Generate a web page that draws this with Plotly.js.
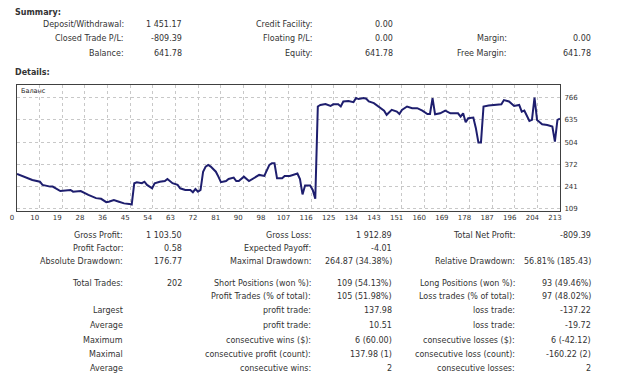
<!DOCTYPE html>
<html>
<head>
<meta charset="utf-8">
<script src="https://cdn.plot.ly/plotly-3.0.1.min.js"></script>
<style>
html,body{margin:0;padding:0;background:#fff;}
#chart{width:620px;height:374px;}
</style>
</head>
<body>
<div id="chart"></div>
<script>
// ---- data ----
const xTickLabels = ['0','10','19','28','36','45','54','63','72','81','90','98','107','116','125','134','143','151','160','169','178','187','196','204','213'];
const yTickVals = [109, 241, 372, 504, 635, 766];

const tradeNo = [0,3,6,9,10,13,14,17,21,22,25,28,31,33,35,36,38,40,42,44,45,46,47,49,50,51,53,54,56,58,59,61,63,64,66,68,69,70,71,72,73,74,75,76,78,79,80,82,83,85,86,87,89,91,93,95,97,99,100,101,102,104,105,107,110,111,112,113,115,116,117,118,119,121,123,124,126,127,128,130,132,133,134,136,137,138,140,142,144,145,147,149,150,151,153,155,157,159,161,162,163,164,166,168,170,173,174,175,176,177,179,180,181,182,183,185,187,190,191,193,195,197,198,199,201,202,203,204,206,208,210,211,212,213];
const balance = [316,300,280,270,251,241,241,215,221,211,215,192,173,169,149,152,162,152,142,139,135,261,267,261,270,251,231,261,270,274,286,261,251,231,221,221,208,227,211,221,329,359,369,359,329,300,267,274,286,294,274,274,300,274,294,310,304,369,379,379,290,290,304,304,318,285,195,248,247,221,169,714,723,729,717,727,727,714,744,747,740,764,758,764,760,744,734,714,689,665,694,684,670,694,714,704,704,690,670,670,764,668,674,690,674,674,654,674,621,645,649,586,501,501,714,720,723,727,752,744,717,723,684,690,629,635,766,635,609,605,596,507,635,641.78];

const legendLabel = 'Баланс';
const headings = ['Summary:', 'Details:'];

const sumLabels1 = ['Deposit/Withdrawal:', 'Closed Trade P/L:', 'Balance:'];
const sumValues1 = ['1 451.17', '-809.39', '641.78'];
const sumLabels2 = ['Credit Facility:', 'Floating P/L:', 'Equity:'];
const sumValues2 = ['0.00', '0.00', '641.78'];
const sumLabels3 = ['', 'Margin:', 'Free Margin:'];
const sumValues3 = ['', '0.00', '641.78'];

const detLabels1 = ['Gross Profit:', 'Profit Factor:', 'Absolute Drawdown:', 'Total Trades:', '', 'Largest', 'Average', 'Maximum', 'Maximal', 'Average'];
const detValues1 = ['1 103.50', '0.58', '176.77', '202', '', '', '', '', '', ''];
const detLabels2 = ['Gross Loss:', 'Expected Payoff:', 'Maximal Drawdown:', 'Short Positions (won %):', 'Profit Trades (% of total):', 'profit trade:', 'profit trade:', 'consecutive wins ($):', 'consecutive profit (count):', 'consecutive wins:'];
const detValues2 = ['1 912.89', '-4.01', '264.87 (34.38%)', '109 (54.13%)', '105 (51.98%)', '137.98', '10.51', '6 (60.00)', '137.98 (1)', '2'];
const detLabels3 = ['Total Net Profit:', '', 'Relative Drawdown:', 'Long Positions (won %):', 'Loss trades (% of total):', 'loss trade:', 'loss trade:', 'consecutive losses ($):', 'consecutive loss (count):', 'consecutive losses:'];
const detValues3 = ['-809.39', '', '56.81% (185.43)', '93 (49.46%)', '97 (48.02%)', '-137.22', '-19.72', '6 (-42.12)', '-160.22 (2)', '2'];

// ---- layout geometry (pixels) ----
const W = 620, H = 374;
const M = {l: 17, r: 60, t: 85, b: 163};
const PW = W - M.l - M.r, PH = H - M.t - M.b;
const px = x => (x - M.l) / PW;
const py = y => (H - M.b - y) / PH;
const FONT = 'DejaVu Sans, Verdana, sans-serif';
const TXT = '#333333';

const annotations = [];
function addText(text, x, y, anchor, opts) {
  if (!text) return;
  annotations.push(Object.assign({
    text: text, xref: 'paper', yref: 'paper', x: px(x), y: py(y),
    xanchor: anchor, yanchor: 'middle', showarrow: false,
    font: {family: FONT, size: 8, color: TXT}, borderpad: 0
  }, opts || {}));
}

addText(headings[0], 14, 12, 'left', {font: {family: FONT, size: 8, color: TXT, weight: 'bold'}});
addText(headings[1], 14, 73, 'left', {font: {family: FONT, size: 8, color: TXT, weight: 'bold'}});

const sumRows = [25, 39, 53];
sumRows.forEach((y, i) => {
  addText(sumLabels1[i], 125, y, 'right');
  addText(sumValues1[i], 183, y, 'right');
  addText(sumLabels2[i], 313, y, 'right');
  addText(sumValues2[i], 394, y, 'right');
  addText(sumLabels3[i], 508, y, 'right');
  addText(sumValues3[i], 592, y, 'right');
});

const detRows = [235, 248, 261, 283, 296, 310, 325, 340, 354, 368];
detRows.forEach((y, i) => {
  addText(detLabels1[i], 124, y, 'right');
  addText(detValues1[i], 183, y, 'right');
  addText(detLabels2[i], 312, y, 'right');
  addText(detValues2[i], 393, y, 'right');
  addText(detLabels3[i], 516, y, 'right');
  addText(detValues3[i], 592, y, 'right');
});

addText(legendLabel, 20, 91, 'left', {font: {family: FONT, size: 6.5, color: '#222'}});

const xMax = 213;
const tickVals = xTickLabels.map((_, k) => k * xMax / (xTickLabels.length - 1));

const trace = {
  type: 'scatter', mode: 'lines', x: tradeNo, y: balance,
  line: {color: '#1e1e6e', width: 2}, hoverinfo: 'skip'
};

const layout = {
  width: W, height: H, margin: M,
  paper_bgcolor: '#ffffff', plot_bgcolor: '#ffffff',
  showlegend: false,
  xaxis: {
    range: [0, xMax], tickvals: tickVals, ticktext: xTickLabels,
    showgrid: true, gridcolor: '#c8c8c8', griddash: 'dot', gridwidth: 1,
    showline: true, mirror: true, linecolor: '#404040', linewidth: 1,
    zeroline: false, ticks: '', ticklabelshift: -5, ticklabelstandoff: 0,
    tickfont: {family: FONT, size: 7, color: TXT}, fixedrange: true
  },
  yaxis: {
    side: 'right', range: [97, 841], tickvals: yTickVals,
    showgrid: true, gridcolor: '#c8c8c8', griddash: 'dot', gridwidth: 1,
    showline: true, mirror: true, linecolor: '#404040', linewidth: 1,
    zeroline: false, ticks: '', ticklabelstandoff: 2,
    tickfont: {family: FONT, size: 7, color: TXT}, fixedrange: true
  },
  annotations: annotations
};

Plotly.newPlot('chart', [trace], layout, {staticPlot: true, displayModeBar: false});
</script>
</body>
</html>
